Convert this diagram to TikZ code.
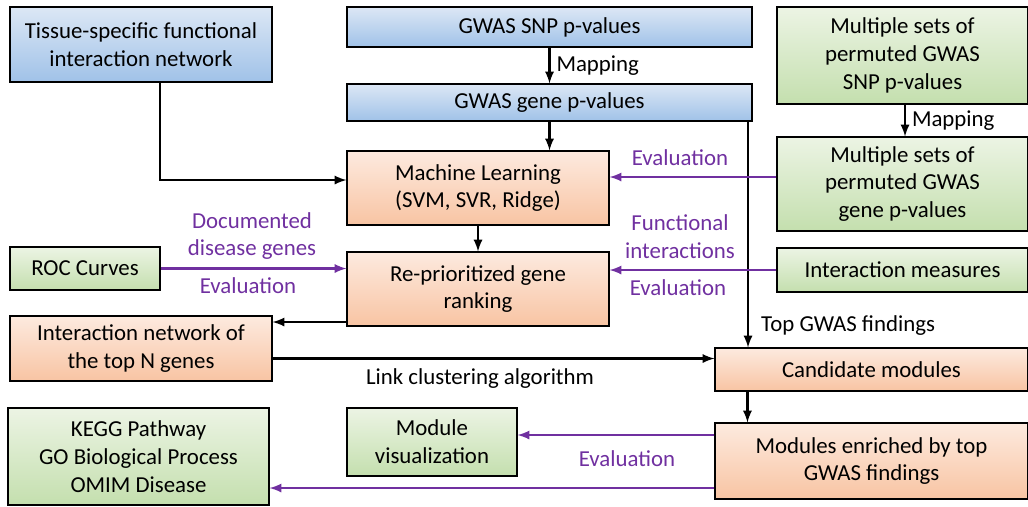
\documentclass[tikz,border=0pt]{standalone}
\usepackage{fontspec}
\setmainfont{Carlito}
\usepackage{tikz}
\usetikzlibrary{shapes,arrows,positioning,calc}

\definecolor{evalpurple}{HTML}{7030A0}

\begin{document}
\begin{tikzpicture}[
    box/.style={draw, line width=0.6pt, align=center, inner sep=2pt,
                font=\fontsize{13}{15.8}\selectfont},
    bluebox/.style={box, top color={rgb,255:red,220;green,231;blue,245}, bottom color={rgb,255:red,160;green,194;blue,232}},
    orangebox/.style={box, top color={rgb,255:red,253;green,234;blue,223}, bottom color={rgb,255:red,248;green,196;blue,163}},
    greenbox/.style={box, top color={rgb,255:red,236;green,244;blue,228}, bottom color={rgb,255:red,196;green,223;blue,174}},
    flow/.style={-latex, line width=1.3pt},
    evalflow/.style={-latex, line width=1.3pt, evalpurple},
    lab/.style={font=\fontsize{13}{15.8}\selectfont, align=center},
    evallab/.style={lab, text=evalpurple}
]
    \useasboundingbox (0,0) rectangle (20.56,-10.12);

    % Input data
    \node[bluebox, minimum width=5.24cm, minimum height=1.5cm] (tissue) at (2.82,-0.89) {Tissue-specific functional\\interaction network};
    \node[bluebox, minimum width=8.1cm, minimum height=0.8cm] (snp) at (10.99,-0.54) {GWAS SNP p-values};
    \node[bluebox, minimum width=8.1cm, minimum height=0.74cm] (gene) at (10.99,-2.05) {GWAS gene p-values};

    % Permuted data
    \node[greenbox, minimum width=5.02cm, minimum height=1.94cm] (permsnp) at (18.05,-1.11) {Multiple sets of\\permuted GWAS\\SNP p-values};
    \node[greenbox, minimum width=5.02cm, minimum height=1.88cm] (permgene) at (18.05,-3.68) {Multiple sets of\\permuted GWAS\\gene p-values};
    \node[greenbox, minimum width=5.02cm, minimum height=0.88cm] (measures) at (18.05,-5.4) {Interaction measures};
    \node[greenbox, minimum width=3.0cm, minimum height=0.86cm] (roc) at (1.7,-5.37) {ROC Curves};

    % Prioritization
    \node[orangebox, minimum width=5.24cm, minimum height=1.48cm] (ml) at (9.56,-3.76) {Machine Learning\\(SVM, SVR, Ridge)};
    \node[orangebox, minimum width=5.24cm, minimum height=1.48cm] (rerank) at (9.56,-5.78) {Re-prioritized gene\\ranking};

    % Modules
    \node[orangebox, minimum width=5.24cm, minimum height=1.3cm] (topnet) at (2.82,-6.97) {Interaction network of\\the top N genes};
    \node[orangebox, minimum width=6.26cm, minimum height=0.86cm] (cand) at (17.43,-7.39) {Candidate modules};
    \node[orangebox, minimum width=6.26cm, minimum height=1.52cm] (enriched) at (17.43,-9.22) {Modules enriched by top\\GWAS findings};
    \node[greenbox, minimum width=3.4cm, minimum height=1.36cm] (vis) at (8.64,-8.84) {Module\\visualization};
    \node[greenbox, minimum width=5.22cm, minimum height=1.94cm] (kegg) at (2.77,-9.13) {KEGG Pathway\\GO Biological Process\\OMIM Disease};

    % Black arrows
    \draw[flow] (snp.south) -- (gene.north) node[midway, right, lab] {Mapping};
    \draw[flow] (gene.south) -- (gene.south |- ml.north);
    \draw[flow] ([xshift=0.38cm]tissue.south) |- ([yshift=0.16cm]ml.west);
    \draw[flow] ([xshift=0.05cm]permsnp.south) -- ([xshift=0.05cm]permgene.north) node[midway, right, lab] {Mapping};
    \draw[flow] (ml.south) -- (rerank.north);
    \draw[flow] ([yshift=-0.66cm]rerank.west) -- ([yshift=-0.66cm]rerank.west -| topnet.east);
    \draw[flow] ([yshift=-0.2cm]topnet.east) -- ([yshift=-0.2cm]topnet.east -| cand.west);
    \draw[flow] ([xshift=3.97cm]gene.south) -- ([xshift=3.97cm]gene.south |- cand.north);
    \draw[flow] ([xshift=0.66cm]cand.south west) -- ([xshift=0.66cm]cand.south west |- enriched.north);

    % Purple evaluation arrows
    \draw[evalflow] ([yshift=0.14cm]permgene.west) -- ([yshift=0.14cm]permgene.west -| ml.east);
    \draw[evalflow] (roc.east) -- (roc.east -| rerank.west);
    \draw[evalflow] (measures.west) -- (measures.west -| rerank.east);
    \draw[evalflow] ([yshift=0.52cm]enriched.west) -- ([yshift=0.52cm]enriched.west -| vis.east);
    \draw[evalflow] ([yshift=-0.54cm]enriched.west) -- ([yshift=-0.54cm]enriched.west -| kegg.east);

    % Labels
    \node[evallab] (evalml) at (13.6,-3.16) {Evaluation};
    \node[evallab] (docgenes) at (5.04,-4.72) {Documented\\disease genes};
    \node[evallab] (evalroc) at (4.96,-5.72) {Evaluation};
    \node[evallab] (funcint) at (13.6,-4.74) {Functional\\interactions};
    \node[evallab] (evalint) at (13.56,-5.76) {Evaluation};
    \node[evallab] (evalmod) at (12.54,-9.18) {Evaluation};
    \node[lab] (linkclust) at (9.6,-7.58) {Link clustering algorithm};
    \node[lab, anchor=west] (topfind) at (15.1,-6.52) {Top GWAS findings};
\end{tikzpicture}
\end{document}
